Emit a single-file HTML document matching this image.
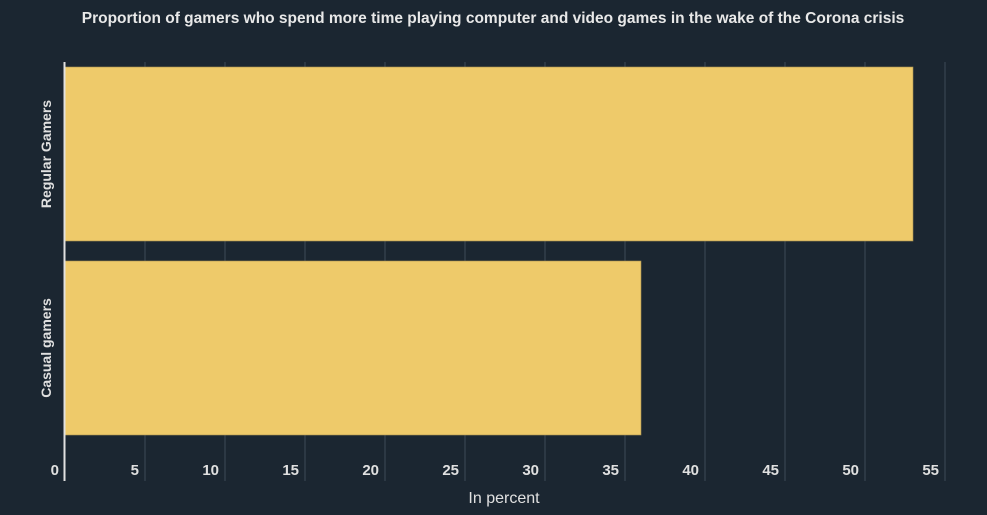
<!DOCTYPE html>
<html><head><meta charset="utf-8"><style>
html,body{margin:0;padding:0;background:#1b2631;}
svg{display:block;font-family:"Liberation Sans",sans-serif;}
</style></head><body>
<svg id="chart" width="987" height="515" viewBox="0 0 987 515">
<rect x="0" y="0" width="987" height="515" fill="#1b2631"/>
<text x="493" y="23" text-anchor="middle" fill="#e8e8e8" font-size="15.5" font-weight="bold">Proportion of gamers who spend more time playing computer and video games in the wake of the Corona crisis</text>
<g id="grid"></g><g id="bars"></g><g id="ticks"></g><g id="cats"></g>
<line x1="64.5" y1="62" x2="64.5" y2="481" stroke="#e0e0e0" stroke-width="2"/>
<text x="504" y="503" text-anchor="middle" fill="#e0e0e0" font-size="16">In percent</text>
</svg>
<script>
const categories=["Regular Gamers","Casual gamers"];
const values=[53,36];
const tickValues=[0,5,10,15,20,25,30,35,40,45,50,55];
const NS="http://www.w3.org/2000/svg";
const x0=65,pxPer=16,bandTop=67,bandStep=194,barH=174;
function xs(v){return x0+v*pxPer;}
function mk(t,a,p){const e=document.createElementNS(NS,t);for(const k in a)e.setAttribute(k,a[k]);p.appendChild(e);return e;}
const grid=document.getElementById('grid'),bars=document.getElementById('bars'),ticks=document.getElementById('ticks'),cats=document.getElementById('cats');
tickValues.forEach(v=>{
 if(v>0){const l=mk('line',{x1:xs(v),x2:xs(v),y1:62,y2:481,stroke:'#3e4a56','stroke-width':1},grid);
 
 }
 const t=mk('text',{x:xs(v)-6,y:475,'text-anchor':'end',fill:'#e0e0e0','font-size':15,'font-weight':'bold'},ticks);
 t.textContent=v;
 
 
});
categories.forEach((c,i)=>{
 const y=bandTop+i*bandStep;
 const r=mk('rect',{x:x0,y:y,width:xs(values[i])-x0,height:barH,fill:'#eeca6a',stroke:'#a89050','stroke-width':0.6},bars);
 
 
 const cy=y+barH/2;
 const t=mk('text',{x:0,y:0,transform:`translate(51,${cy}) rotate(-90)`,'text-anchor':'middle',fill:'#e0e0e0','font-size':14,'font-weight':'bold'},cats);
 t.textContent=c;
 
 
});
</script>
</body></html>
